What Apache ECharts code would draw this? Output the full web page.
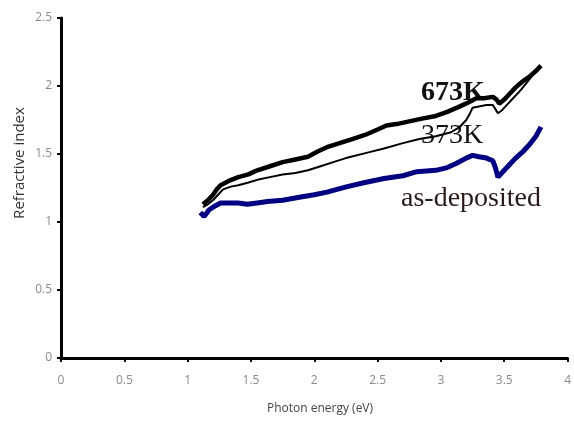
<!DOCTYPE html>
<html>
<head>
<meta charset="utf-8">
<script src="https://cdn.jsdelivr.net/npm/echarts@6/dist/echarts.min.js"></script>
<style>html,body{margin:0;padding:0;background:#fff}#c{width:574px;height:421px}</style>
</head>
<body>
<div id="c"></div>
<script>
// Photon energy (eV) and refractive index for each sample
const x673 = [1.12,1.16,1.20,1.23,1.26,1.32,1.40,1.48,1.55,1.65,1.75,1.85,1.95,2.03,2.10,2.20,2.30,2.40,2.50,2.57,2.65,2.75,2.85,2.96,3.05,3.15,3.22,3.28,3.34,3.41,3.44,3.46,3.50,3.55,3.59,3.64,3.70,3.75,3.79];
const y673 = [1.13,1.16,1.20,1.24,1.27,1.30,1.33,1.35,1.38,1.41,1.44,1.46,1.48,1.52,1.55,1.58,1.61,1.64,1.68,1.71,1.72,1.74,1.76,1.78,1.81,1.85,1.88,1.91,1.91,1.92,1.90,1.87,1.90,1.95,1.99,2.03,2.07,2.11,2.15];

const x373 = [1.12,1.16,1.20,1.24,1.28,1.34,1.40,1.48,1.55,1.65,1.75,1.85,1.95,2.05,2.15,2.25,2.42,2.55,2.70,2.83,2.96,3.08,3.15,3.20,3.23,3.25,3.30,3.36,3.41,3.43,3.45,3.48,3.51,3.57,3.63,3.70,3.76];
const y373 = [1.11,1.13,1.16,1.20,1.24,1.26,1.27,1.29,1.31,1.33,1.35,1.36,1.38,1.41,1.44,1.47,1.51,1.54,1.58,1.61,1.63,1.66,1.70,1.75,1.80,1.84,1.85,1.86,1.86,1.83,1.80,1.82,1.85,1.91,1.97,2.05,2.13];

const xAsd = [1.10,1.13,1.17,1.22,1.26,1.32,1.40,1.47,1.55,1.63,1.75,1.87,2.00,2.10,2.26,2.40,2.55,2.70,2.81,2.96,3.05,3.12,3.20,3.25,3.30,3.36,3.41,3.43,3.45,3.50,3.55,3.59,3.65,3.70,3.75,3.79];
const yAsd = [1.07,1.04,1.09,1.12,1.14,1.14,1.14,1.13,1.14,1.15,1.16,1.18,1.20,1.22,1.26,1.29,1.32,1.34,1.37,1.38,1.40,1.43,1.47,1.49,1.48,1.47,1.45,1.40,1.33,1.38,1.43,1.47,1.52,1.57,1.63,1.70];

const xTicksMin = 0, xTicksMax = 4, xStep = 0.5;
const yTicksMin = 0, yTicksMax = 2.5, yStep = 0.5;

const pair = (xs, ys) => xs.map((v, i) => [v, ys[i]]);

const chart = echarts.init(document.getElementById('c'), null, {renderer: 'canvas'});
const tickFont = {color: '#8a8a8a', fontSize: 12, fontFamily: 'Open Sans, Liberation Sans, sans-serif'};
chart.setOption({
  animation: false,
  grid: {left: 61, right: 1, top: 18, bottom: 63, containLabel: false},
  xAxis: {
    type: 'value', min: xTicksMin, max: xTicksMax, interval: xStep,
    axisLine: {onZero: false, lineStyle: {color: '#000', width: 3}},
    axisTick: {show: true, length: 4, lineStyle: {color: '#000', width: 2}},
    axisLabel: Object.assign({margin: 17, showMaxLabel: true, showMinLabel: true}, tickFont),
    splitLine: {show: false}
  },
  yAxis: {
    type: 'value', min: yTicksMin, max: yTicksMax, interval: yStep,
    axisLine: {show: true, lineStyle: {color: '#000', width: 3}},
    axisTick: {show: true, length: 4, lineStyle: {color: '#000', width: 2}},
    axisLabel: Object.assign({margin: 9}, tickFont),
    splitLine: {show: false}
  },
  series: [
    {name: 'as-deposited', type: 'line', data: pair(xAsd, yAsd), showSymbol: false, smooth: false,
     lineStyle: {color: '#000080', width: 5}},
    {name: '373K', type: 'line', data: pair(x373, y373), showSymbol: false,
     lineStyle: {color: '#000', width: 2}},
    {name: '673K', type: 'line', data: pair(x673, y673), showSymbol: false,
     lineStyle: {color: '#000', width: 4.5}}
  ],
  graphic: [
    {type: 'text', left: 421, top: 79, style: {text: '673K', font: 'bold 28px "Liberation Serif", serif', fill: '#111'}},
    {type: 'text', left: 421, top: 122, style: {text: '373K', font: '28px "Liberation Serif", serif', fill: '#111'}},
    {type: 'text', left: 401, top: 185, style: {text: 'as-deposited', font: '28px "Liberation Serif", serif', fill: '#2a1a1a'}},
    {type: 'text', x: 20, y: 163, rotation: Math.PI / 2,
     style: {text: 'Refractive index', font: '15px "Open Sans", sans-serif', fill: '#333', align: 'center', verticalAlign: 'middle'}},
    {type: 'text', x: 320, y: 409, style: {text: 'Photon energy (eV)', font: '12px "Open Sans", sans-serif', fill: '#444', align: 'center', verticalAlign: 'middle'}}
  ]
});
</script>
</body>
</html>
